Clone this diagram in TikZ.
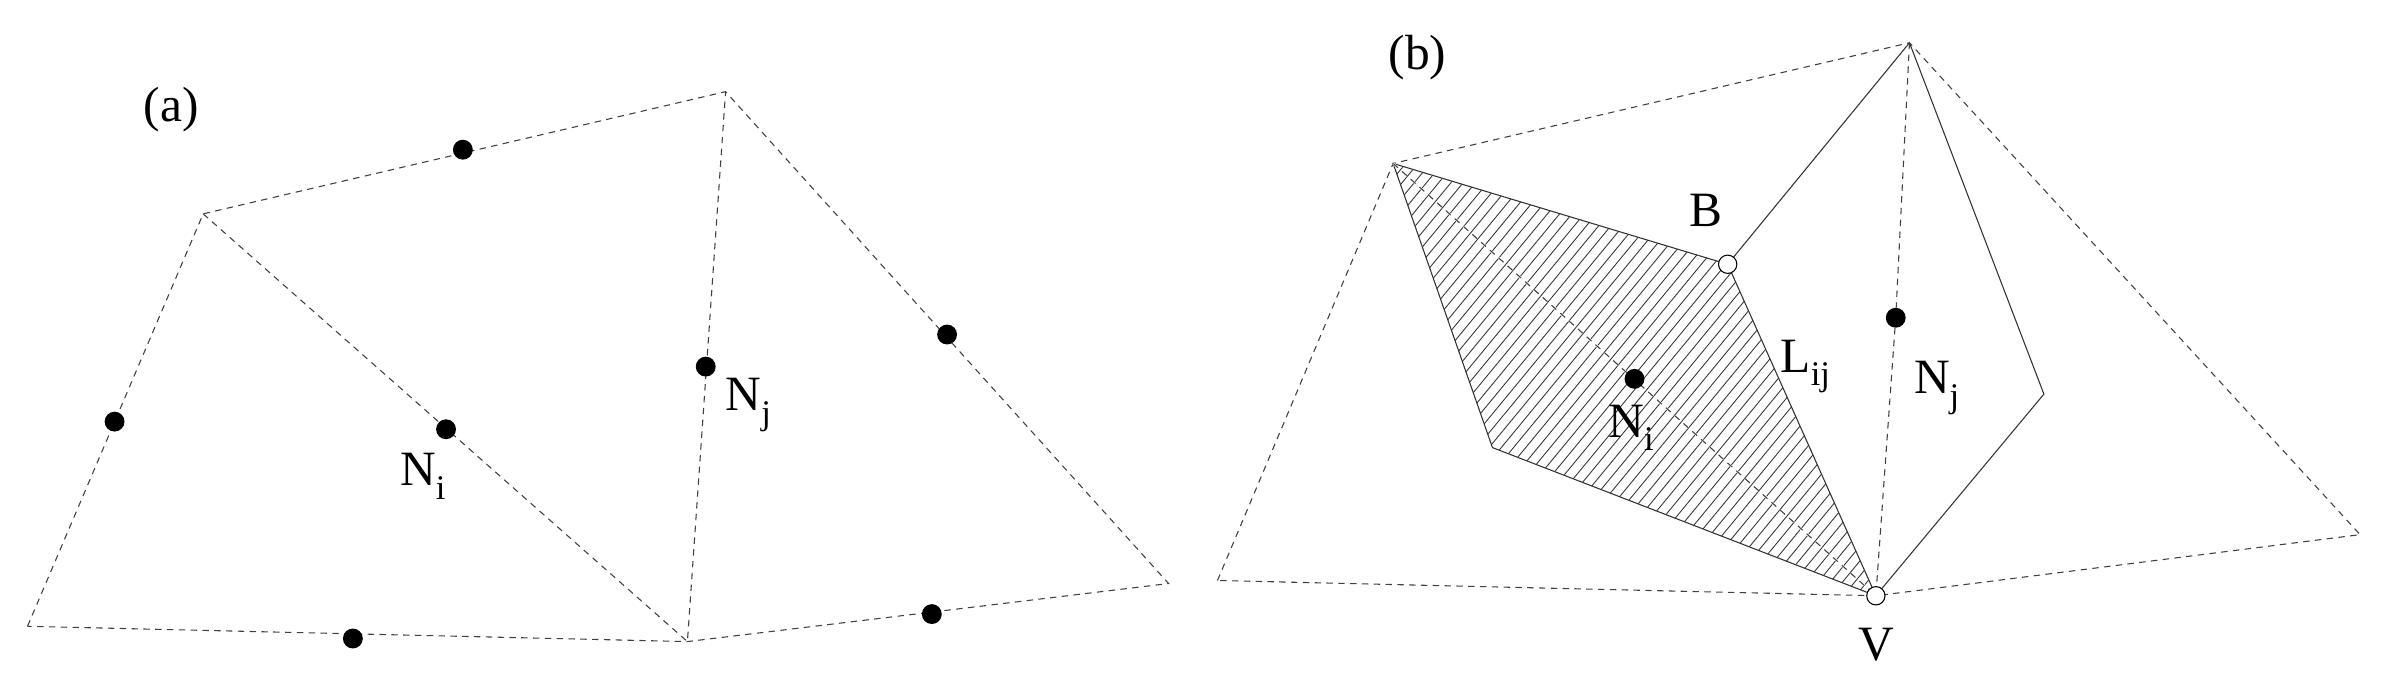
\documentclass[tikz,border=0pt]{standalone}
\usepackage{fontspec}
\setmainfont{Liberation Serif}
\begin{document}
\begin{tikzpicture}[x=0.05cm,y=-0.05cm,
  dsh/.style={dash pattern=on 6pt off 5pt,line width=1pt,black!75},
  sol/.style={line width=1pt,black!80},
  dot/.style={circle,fill=black,inner sep=0pt,minimum size=0.65cm},
  odot/.style={circle,draw,fill=white,inner sep=0pt,minimum size=0.6cm,line width=1pt},
  lab/.style={font=\fontsize{46}{46}\selectfont,inner sep=0pt}]
\useasboundingbox (0,0) rectangle (1560,441);
% panel a
\coordinate (a1) at (133,140); \coordinate (a2) at (475,60);
\coordinate (a3) at (765,382); \coordinate (a4) at (450,420);
\coordinate (a5) at (18,410);
\draw[dsh] (a5)--(a1)--(a2)--(a3)--(a4)--(a5);
\draw[dsh] (a1)--(a4)--(a2);
\node[dot] (d1) at (303,98) {}; \node[dot] (d2) at (620,219) {};
\node[dot] (d3) at (610,402) {}; \node[dot] (d4) at (231,418) {};
\node[dot] (d5) at (75,276) {};
\node[dot] (ani) at (292,281) {}; \node[dot] (anj) at (462,240) {};
\node[lab] (lani) at (277,312) {N\textsubscript{i}};
\node[lab] (lanj) at (490,265) {N\textsubscript{j}};
\node[lab] (la) at (112,72) {(a)};
% panel b
\coordinate (p1) at (912,107); \coordinate (p2) at (1250,28);
\coordinate (p3) at (1545,350); \coordinate (v) at (1228,390);
\coordinate (p5) at (797,380); \coordinate (b) at (1131,173);
\coordinate (c) at (977,293); \coordinate (r) at (1338,258);
\begin{scope}
\clip (p1)--(b)--(v)--(c)--cycle;
\foreach \k in {0,...,80} {
  \draw[line width=0.8pt,black!80] ({630+\k*8},420) -- ++(330,-400);
}
\end{scope}
\draw[sol] (p1)--(b)--(v)--(c)--cycle;
\draw[sol] (b)--(p2)--(r)--(v);
\draw[dsh] (p5)--(p1)--(p2)--(p3)--(v)--(p5);
\draw[dsh,white,line width=2pt] (p1)--(v);
\draw[dsh] (p1)--(v);
\node[dot] (bnj) at (1241,208) {};
\draw[dsh] (p2)--(bnj)--(v);
\node[dot] (bni) at (1070,248) {};
\node[odot] (bb) at (b) {}; \node[odot] (bv) at (v) {};
\node[lab] (lbni) at (1068,280) {N\textsubscript{i}};
\node[lab] (lbb) at (1117,138) {B};
\node[lab] (lbl) at (1182,240) {L\textsubscript{ij}};
\node[lab] (lbnj) at (1268,254) {N\textsubscript{j}};
\node[lab] (lbv) at (1228,422) {V};
\node[lab] (lb) at (928,38) {(b)};
\end{tikzpicture}
\end{document}
